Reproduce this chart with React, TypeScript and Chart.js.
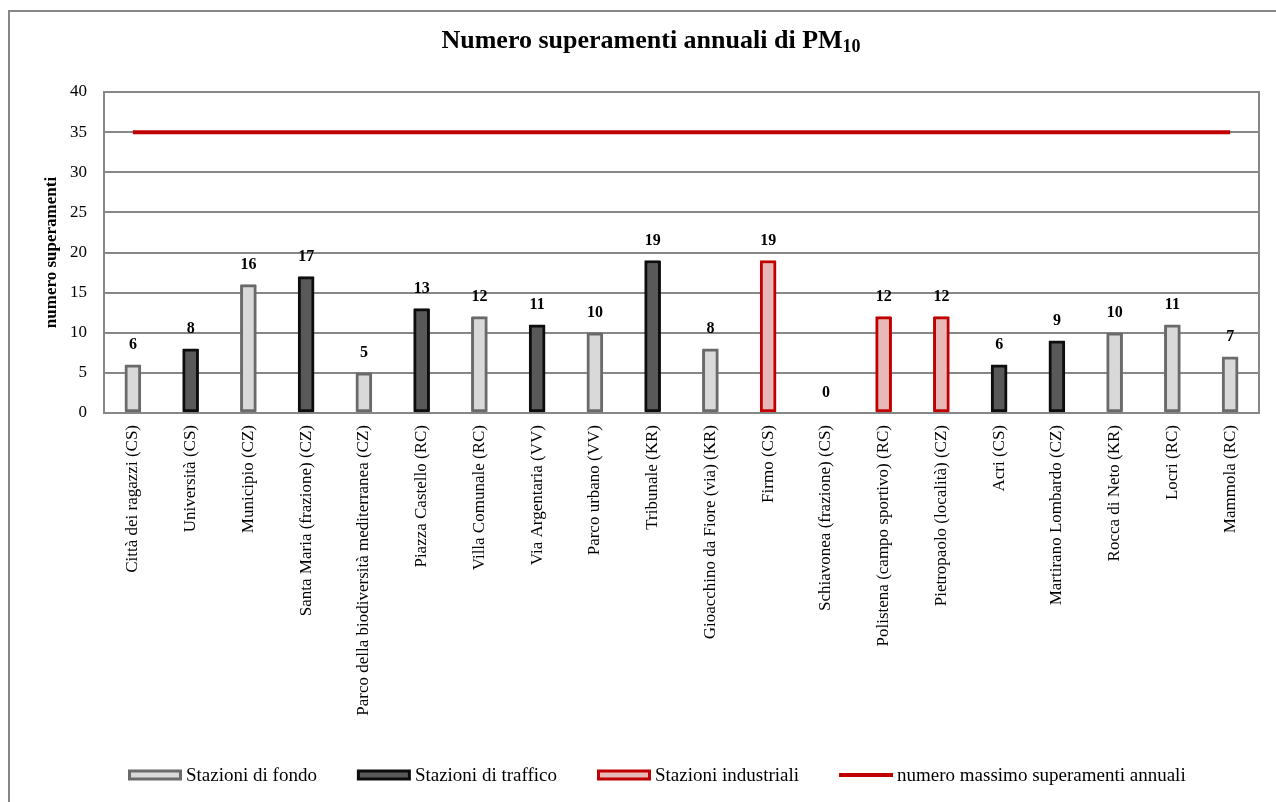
import React, { useEffect, useRef } from "react";
import { Chart, registerables } from "chart.js";

Chart.register(...registerables);

const categories = [
  "Città dei ragazzi (CS)",
  "Università (CS)",
  "Municipio (CZ)",
  "Santa Maria (frazione) (CZ)",
  "Parco della biodiversità mediterranea (CZ)",
  "Piazza Castello (RC)",
  "Villa Comunale (RC)",
  "Via Argentaria (VV)",
  "Parco urbano (VV)",
  "Tribunale (KR)",
  "Gioacchino da Fiore (via) (KR)",
  "Firmo (CS)",
  "Schiavonea (frazione) (CS)",
  "Polistena (campo sportivo) (RC)",
  "Pietropaolo (località) (CZ)",
  "Acri (CS)",
  "Martirano Lombardo (CZ)",
  "Rocca di Neto (KR)",
  "Locri (RC)",
  "Mammola (RC)",
];

const fondoValues = [6, null, 16, null, 5, null, 12, null, 10, null, 8, null, null, null, null, null, null, 10, 11, 7];
const trafficoValues = [null, 8, null, 17, null, 13, null, 11, null, 19, null, null, null, null, null, 6, 9, null, null, null];
const industrialiValues = [null, null, null, null, null, null, null, null, null, null, null, 19, 0, 12, 12, null, null, null, null, null];
const limitValues = [35, 35, 35, 35, 35, 35, 35, 35, 35, 35, 35, 35, 35, 35, 35, 35, 35, 35, 35, 35];

const seriesLabels = ["Stazioni di fondo", "Stazioni di traffico", "Stazioni industriali", "numero massimo superamenti annuali"];
const titleMain = "Numero superamenti annuali di PM";
const titleSub = "10";
const yAxisTitle = "numero superamenti";
const yMin = 0;
const yMax = 40;
const yStep = 5;

const SERIF = '"Liberation Serif", "Times New Roman", serif';
const GRID = "#878787";

const pagePlugin = {
  id: "pageDecor",
  beforeDraw(chart: any) {
    const ctx = chart.ctx;
    ctx.save();
    ctx.fillStyle = "#ffffff";
    ctx.fillRect(0, 0, chart.width, chart.height);
    ctx.strokeStyle = GRID;
    ctx.lineWidth = 2;
    ctx.beginPath();
    ctx.moveTo(9, chart.height + 5);
    ctx.lineTo(9, 11);
    ctx.lineTo(chart.width + 5, 11);
    ctx.stroke();
    ctx.restore();
  },
  beforeDatasetsDraw(chart: any) {
    const ctx = chart.ctx;
    const a = chart.chartArea;
    ctx.save();
    ctx.strokeStyle = GRID;
    ctx.lineWidth = 2;
    ctx.strokeRect(a.left, a.top, a.right - a.left, a.bottom - a.top);
    ctx.restore();
  },
  afterDatasetsDraw(chart: any) {
    const ctx = chart.ctx;
    const xs = chart.scales.x;
    const ys = chart.scales.y;
    ctx.save();
    ctx.font = `bold 16px ${SERIF}`;
    ctx.fillStyle = "#000";
    ctx.textAlign = "center";
    ctx.textBaseline = "middle";
    for (let i = 0; i < categories.length; i++) {
      const v = [fondoValues[i], trafficoValues[i], industrialiValues[i]].find((x) => x !== null && x !== undefined);
      if (v === undefined || v === null) continue;
      const x = xs.getPixelForValue(i);
      const y = ys.getPixelForValue(v) - 20;
      ctx.fillText(String(v), x, y);
    }
    ctx.restore();
  },
  afterDraw(chart: any) {
    const ctx = chart.ctx;
    ctx.save();
    // title
    ctx.fillStyle = "#000";
    ctx.textBaseline = "alphabetic";
    ctx.textAlign = "left";
    const fMain = `bold 26px ${SERIF}`;
    const fSub = `bold 18px ${SERIF}`;
    ctx.font = fMain;
    const w1 = ctx.measureText(titleMain).width;
    ctx.font = fSub;
    const w2 = ctx.measureText(titleSub).width;
    const cx = 651;
    const sx = cx - (w1 + w2) / 2;
    ctx.font = fMain;
    ctx.fillText(titleMain, sx, 48);
    ctx.font = fSub;
    ctx.fillText(titleSub, sx + w1, 52);

    // legend
    const ds = chart.data.datasets;
    const legendY = 775;
    let x = 128;
    ctx.font = `19px ${SERIF}`;
    ctx.textBaseline = "middle";
    for (let i = 0; i < ds.length; i++) {
      const d = ds[i];
      if (d.type === "line") {
        ctx.fillStyle = d.borderColor;
        ctx.fillRect(x, legendY - 2, 54, 4);
      } else {
        ctx.fillStyle = d.borderColor;
        ctx.fillRect(x, legendY - 5.5, 54, 11);
        ctx.fillStyle = d.backgroundColor;
        ctx.fillRect(x + 3, legendY - 2.5, 48, 5);
      }
      x += 58;
      ctx.fillStyle = "#000";
      ctx.fillText(d.label, x, legendY + 1);
      x += ctx.measureText(d.label).width + 40;
    }
    ctx.restore();
  },
};

export default function App() {
  const canvasRef = useRef<HTMLCanvasElement | null>(null);

  useEffect(() => {
    document.body.style.margin = "0";
    const canvas = canvasRef.current;
    if (!canvas) return;
    const barCommon = {
      barThickness: 16,
      borderWidth: 3,
      borderSkipped: false,
      borderRadius: 1,
      order: 2,
    };
    const chart = new Chart(canvas, {
      type: "bar",
      data: {
        labels: categories,
        datasets: [
          {
            ...barCommon,
            type: "bar",
            label: seriesLabels[0],
            data: fondoValues,
            backgroundColor: "#d9d9d9",
            borderColor: "#6a6a6a",
          },
          {
            ...barCommon,
            type: "bar",
            label: seriesLabels[1],
            data: trafficoValues,
            backgroundColor: "#595959",
            borderColor: "#0d0d0d",
          },
          {
            ...barCommon,
            type: "bar",
            label: seriesLabels[2],
            data: industrialiValues,
            backgroundColor: "#e6b9b8",
            borderColor: "#c00000",
          },
          {
            type: "line",
            label: seriesLabels[3],
            data: limitValues,
            borderColor: "#c00000",
            backgroundColor: "#c00000",
            borderWidth: 4,
            pointRadius: 0,
            fill: false,
            order: 0,
          },
        ] as any,
      },
      options: {
        responsive: false,
        animation: false,
        devicePixelRatio: 1,
        layout: { padding: { top: 92, right: 17, left: 0, bottom: 0 } },
        plugins: {
          legend: { display: false },
          tooltip: { enabled: false },
          title: { display: false },
        },
        scales: {
          x: {
            stacked: true,
            grid: { display: false, drawTicks: false },
            border: { display: false },
            ticks: {
              autoSkip: false,
              minRotation: 90,
              maxRotation: 90,
              padding: 12,
              color: "#000",
              font: { family: SERIF, size: 17 },
            },
            afterFit: (s: any) => {
              s.height = 389;
            },
          },
          y: {
            min: yMin,
            max: yMax,
            grid: { color: GRID, lineWidth: 2, drawTicks: false },
            border: { display: false },
            ticks: {
              stepSize: yStep,
              padding: 17,
              color: "#000",
              font: { family: SERIF, size: 17 },
            },
            title: {
              display: true,
              text: yAxisTitle,
              color: "#000",
              font: { family: SERIF, size: 17, weight: "bold" },
              padding: { top: 41, bottom: 0 },
            },
            afterFit: (s: any) => {
              s.width = 104;
            },
          },
        },
      } as any,
      plugins: [pagePlugin],
    });
    return () => chart.destroy();
  }, []);

  return (
    <div style={{ position: "absolute", left: 0, top: 0, width: 1276, height: 802 }}>
      <canvas ref={canvasRef} width={1276} height={802} />
    </div>
  );
}
